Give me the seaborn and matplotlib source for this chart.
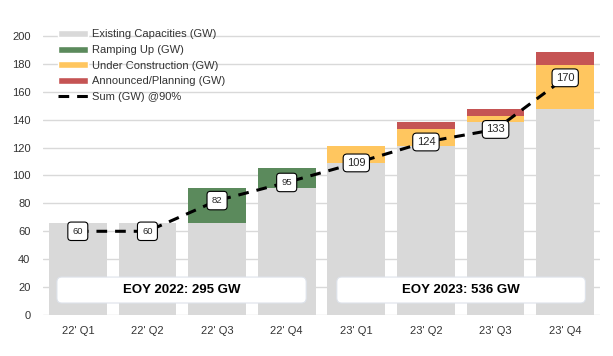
import numpy as np
import pandas as pd
import matplotlib
matplotlib.use("Agg")
import matplotlib.pyplot as plt
import seaborn as sns
from matplotlib.patches import Patch, FancyBboxPatch
from matplotlib.lines import Line2D

quarters = ["22' Q1", "22' Q2", "22' Q3", "22' Q4", "23' Q1", "23' Q2", "23' Q3", "23' Q4"]
existing = [66, 66, 66, 91, 109, 121, 138.5, 147.5]
ramping = [0, 0, 25, 14.5, 0, 0, 0, 0]
under_construction = [0, 0, 0, 0, 12, 12, 4, 32]
announced = [0, 0, 0, 0, 0, 5, 5, 9]
sum_90 = [60, 60, 82, 95, 109, 124, 133, 170]
eoy_labels = ["EOY 2022: 295 GW", "EOY 2023: 536 GW"]

df = pd.DataFrame({
    "Quarter": quarters,
    "Existing": existing,
    "Ramping": ramping,
    "UC": under_construction,
    "Announced": announced,
})
df["c1"] = df["Existing"]
df["c2"] = df["c1"] + df["Ramping"]
df["c3"] = df["c2"] + df["UC"]
df["c4"] = df["c3"] + df["Announced"]

sns.set_style("white")
plt.rcParams["font.family"] = ["Liberation Sans", "DejaVu Sans"]

grey = "#d9d9d9"
green = "#5b8a5c"
yellow = "#ffc65f"
red = "#c55454"

fig = plt.figure(figsize=(6.13, 3.56), dpi=100)
ax = fig.add_axes([43 / 613, 41 / 356, 557 / 613, 293 / 356])

# stacked bars drawn as overlapping cumulative totals, top layer first
for col, color in [("c4", red), ("c3", yellow), ("c2", green), ("c1", grey)]:
    sns.barplot(data=df, x="Quarter", y=col, order=quarters, color=color,
                saturation=1, width=0.83, linewidth=0, ax=ax, zorder=2)

ax.set_xlim(-0.5, len(quarters) - 0.5)
ax.set_ylim(0, 210)
ax.set_yticks(np.arange(0, 201, 20))
ax.yaxis.grid(True, color="#d9d9d9", linewidth=1)
ax.set_axisbelow(True)
for s in ax.spines.values():
    s.set_visible(False)
ax.set_xlabel("")
ax.set_ylabel("")
ax.tick_params(axis="both", length=0, labelsize=8, labelcolor="#333333")
ax.tick_params(axis="y", pad=9)
ax.tick_params(axis="x", pad=8)

# sum line
xs = np.arange(len(quarters))
sns.lineplot(x=xs, y=sum_90, ax=ax, color="black", linewidth=2.2,
             linestyle=(0, (3.5, 2.6)), zorder=4)
for i, v in enumerate(sum_90):
    fs = 6.8 if i < 4 else 8
    pad = 0.5 if i < 4 else 0.35
    ax.text(i, v, str(v), ha="center", va="center", fontsize=fs, zorder=6,
            bbox=dict(boxstyle=f"round,pad={pad},rounding_size=0.35",
                      fc="white", ec="black", lw=0.8))

# EOY summary boxes
px_x = 557 / 8.0
px_y = 293 / 210.0
for (x0, x1), label in zip([(-0.30, 3.28), (3.72, 7.29)], eoy_labels):
    box = FancyBboxPatch((x0, 8.6), x1 - x0, 18.6,
                         boxstyle="round,pad=0,rounding_size=0.07",
                         mutation_aspect=px_x / px_y,
                         fc="white", ec="#dde2ea", lw=0.8, zorder=7)
    ax.add_patch(box)
    ax.text((x0 + x1) / 2, 17.9, label, ha="center", va="center",
            fontsize=9.5, fontweight="bold", color="black", zorder=8)

handles = [
    Patch(facecolor=grey, label="Existing Capacities (GW)"),
    Patch(facecolor=green, label="Ramping Up (GW)"),
    Patch(facecolor=yellow, label="Under Construction (GW)"),
    Patch(facecolor=red, label="Announced/Planning (GW)"),
    Line2D([0], [0], color="black", lw=2.2, linestyle=(0, (3.5, 2.6)),
           label="Sum (GW) @90%"),
]
leg = fig.legend(handles=handles, loc="upper left",
                 bbox_to_anchor=(54 / 613, 1 - 25 / 356), frameon=False,
                 fontsize=8, handlelength=2.7, handleheight=0.6,
                 handletextpad=0.3, labelspacing=0.5, borderaxespad=0)
for t in leg.get_texts():
    t.set_color("#333333")

fig.savefig("out.png", dpi=100)
